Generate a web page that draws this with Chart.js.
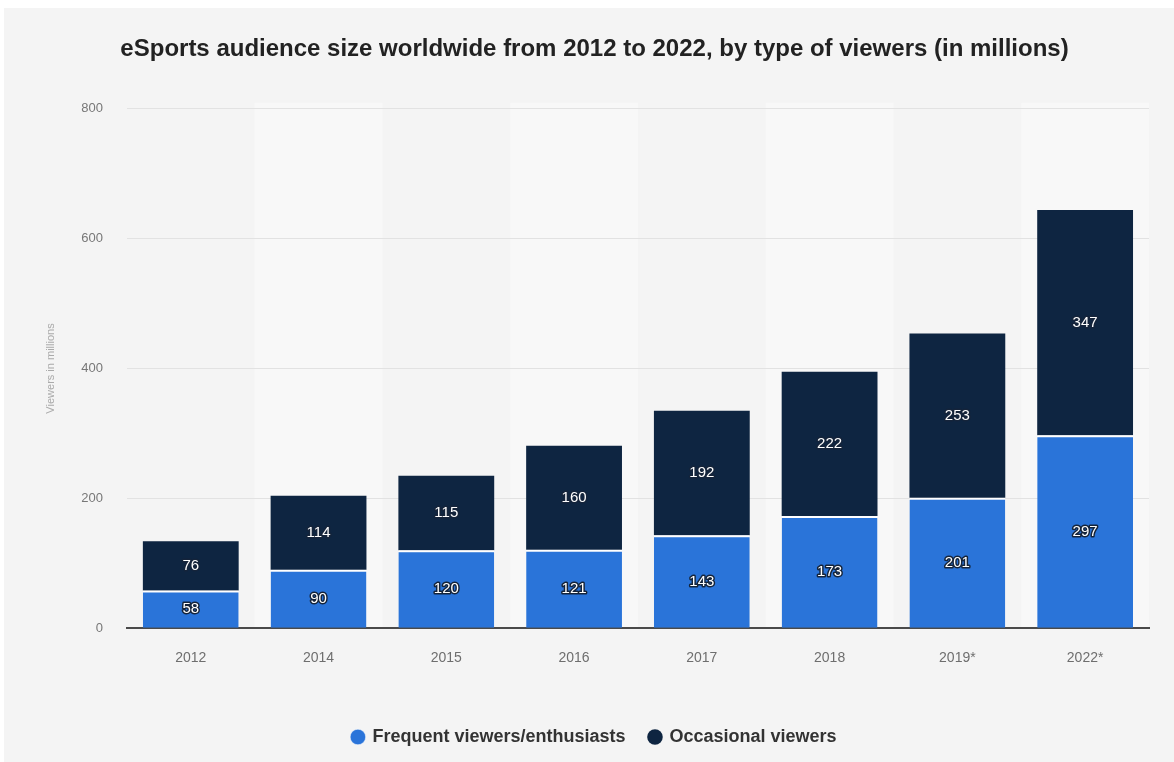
<!DOCTYPE html>
<html>
<head>
<meta charset="utf-8">
<script src="https://cdn.jsdelivr.net/npm/chart.js@4"></script>
<style>
  html, body { margin: 0; padding: 0; background: #ffffff; }
  #wrap { position: absolute; left: 4px; top: 8px; width: 1170px; height: 754px; background: #f4f4f4; }
</style>
</head>
<body>
<div id="wrap"><canvas id="Chart1" width="1170" height="754"></canvas></div>
<script>
// Values
const years = ['2012', '2014', '2015', '2016', '2017', '2018', '2019*', '2022*'];
const frequent = [58, 90, 120, 121, 143, 173, 201, 297];
const occasional = [76, 114, 115, 160, 192, 222, 253, 347];
const yTicks = [0, 200, 400, 600, 800];

// light band behind every other year, under the grid
const bandsPlugin = {
  id: 'bands',
  beforeDraw(chart) {
    const ctx = chart.ctx;
    const x = chart.scales.x;
    const area = chart.chartArea;
    const step = (area.right - area.left) / years.length;
    ctx.save();
    ctx.fillStyle = '#f8f8f8';
    for (let i = 1; i < years.length; i += 2) {
      const cx = x.getPixelForValue(i);
      ctx.fillRect(cx - step / 2, area.top - 6, step, area.bottom - area.top + 6);
    }
    ctx.restore();
  }
};

// value labels inside each segment
const labelsPlugin = {
  id: 'segLabels',
  afterDatasetsDraw(chart) {
    const ctx = chart.ctx;
    ctx.save();
    ctx.font = '15px "Liberation Sans", Arial, sans-serif';
    ctx.textAlign = 'center';
    ctx.textBaseline = 'middle';
    ctx.lineJoin = 'round';
    chart.data.datasets.forEach(function(ds, di) {
      chart.getDatasetMeta(di).data.forEach(function(bar, i) {
        const y = (bar.y + bar.base) / 2;
        ctx.lineWidth = 3;
        ctx.strokeStyle = '#15243a';
        ctx.strokeText(ds.data[i], bar.x, y);
        ctx.fillStyle = '#ffffff';
        ctx.fillText(ds.data[i], bar.x, y);
      });
    });
    ctx.restore();
  }
};

const ctx = document.getElementById('Chart1').getContext('2d');
const myChart = new Chart(ctx, {
  type: 'bar',
  data: {
    labels: years,
    datasets: [
      {
        label: 'Frequent viewers/enthusiasts',
        data: frequent,
        backgroundColor: '#2a74d9',
        borderColor: '#ffffff',
        borderWidth: { top: 2, left: 0, right: 0, bottom: 0 },
        borderSkipped: false,
        categoryPercentage: 1,
        barPercentage: 0.75
      },
      {
        label: 'Occasional viewers',
        data: occasional,
        backgroundColor: '#0e2541',
        borderWidth: 0,
        categoryPercentage: 1,
        barPercentage: 0.75
      }
    ]
  },
  options: {
    responsive: false,
    animation: false,
    layout: { padding: { left: 36, right: 25, top: 0, bottom: 6 } },
    plugins: {
      title: {
        display: true,
        text: 'eSports audience size worldwide from 2012 to 2022, by type of viewers (in millions)',
        color: '#222222',
        font: { family: '"Liberation Sans", Arial, sans-serif', size: 24, weight: 'bold' },
        padding: { top: 27, bottom: 45 }
      },
      legend: {
        position: 'bottom',
        labels: {
          usePointStyle: true,
          pointStyle: 'circle',
          boxWidth: 11,
          boxHeight: 11,
          padding: 24,
          color: '#333333',
          font: { family: '"Liberation Sans", Arial, sans-serif', size: 18, weight: 'bold' }
        }
      },
      tooltip: { enabled: false }
    },
    scales: {
      x: {
        stacked: true,
        grid: { display: false },
        border: { display: true, color: '#4a4a4a', width: 2 },
        ticks: {
          color: '#6e6e6e',
          padding: 14,
          font: { family: '"Liberation Sans", Arial, sans-serif', size: 14 }
        },
        afterFit: function(scale) { scale.height += 23; }
      },
      y: {
        stacked: true,
        min: 0,
        max: 800,
        afterBuildTicks: function(axis) {
          axis.ticks = yTicks.map(function(v) { return { value: v }; });
        },
        grid: { color: '#e2e2e2', drawTicks: false },
        border: { display: false },
        ticks: {
          color: '#777777',
          padding: 24,
          font: { family: '"Liberation Sans", Arial, sans-serif', size: 13 }
        },
        title: {
          display: true,
          text: 'Viewers in millions',
          color: '#aaaaaa',
          padding: { top: 4, bottom: 0 },
          font: { family: '"Liberation Sans", Arial, sans-serif', size: 11 }
        }
      }
    }
  },
  plugins: [bandsPlugin, labelsPlugin]
});
</script>
</body>
</html>
